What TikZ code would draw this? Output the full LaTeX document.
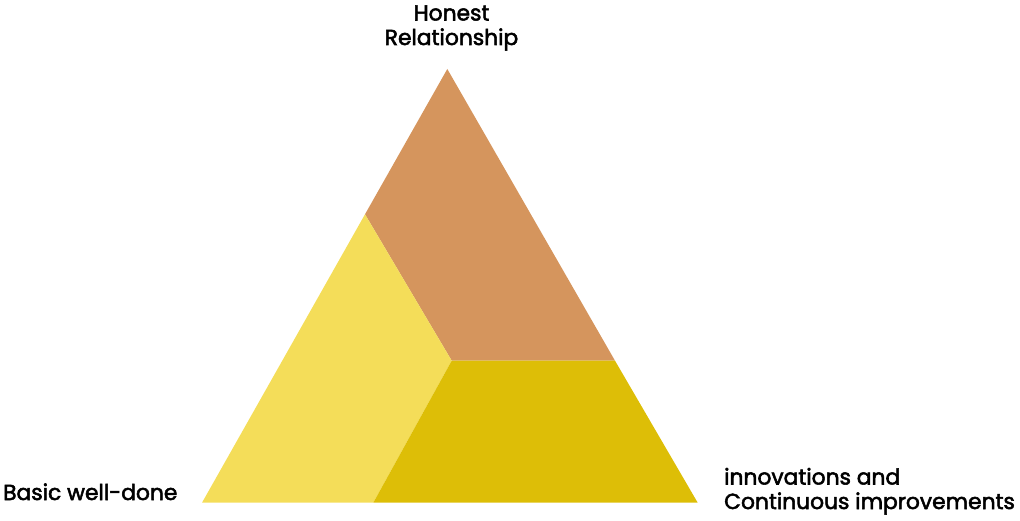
\documentclass[tikz,border=0pt]{standalone}
\usepackage{fontspec}
\newfontfamily\lblfont{Poppins}[FakeBold=2.4]
\definecolor{topc}{HTML}{D5955D}
\definecolor{leftc}{HTML}{F4DD59}
\definecolor{rightc}{HTML}{DDBE07}
\begin{document}
\begin{tikzpicture}[x=1pt,y=-1pt,
  lbl/.style={inner sep=0pt,font=\lblfont\fontsize{21.8}{24.5}\selectfont,text=black}]
\useasboundingbox (0,0) rectangle (1020,521);
\coordinate (A) at (447.3,69);
\coordinate (BL) at (202,502.7);
\coordinate (BR) at (697.7,502.7);
\coordinate (L) at (365,214.3);
\coordinate (C) at (451.7,360.7);
\coordinate (R) at (615,360.7);
\coordinate (B) at (373.3,502.7);
\fill[topc] (A) -- (R) -- (C) -- (L) -- cycle;
\fill[leftc] (L) -- (C) -- (B) -- (BL) -- cycle;
\fill[rightc] (C) -- (R) -- (BR) -- (B) -- cycle;
\node[lbl,anchor=base,align=center] (top) at (451.5,45) {Honest\\Relationship};
\node[lbl,anchor=base west] (left) at (3,500) {Basic well-done};
\node[lbl,anchor=base west,align=left] (right) at (724,509) {innovations and\\Continuous improvements};
\end{tikzpicture}
\end{document}
